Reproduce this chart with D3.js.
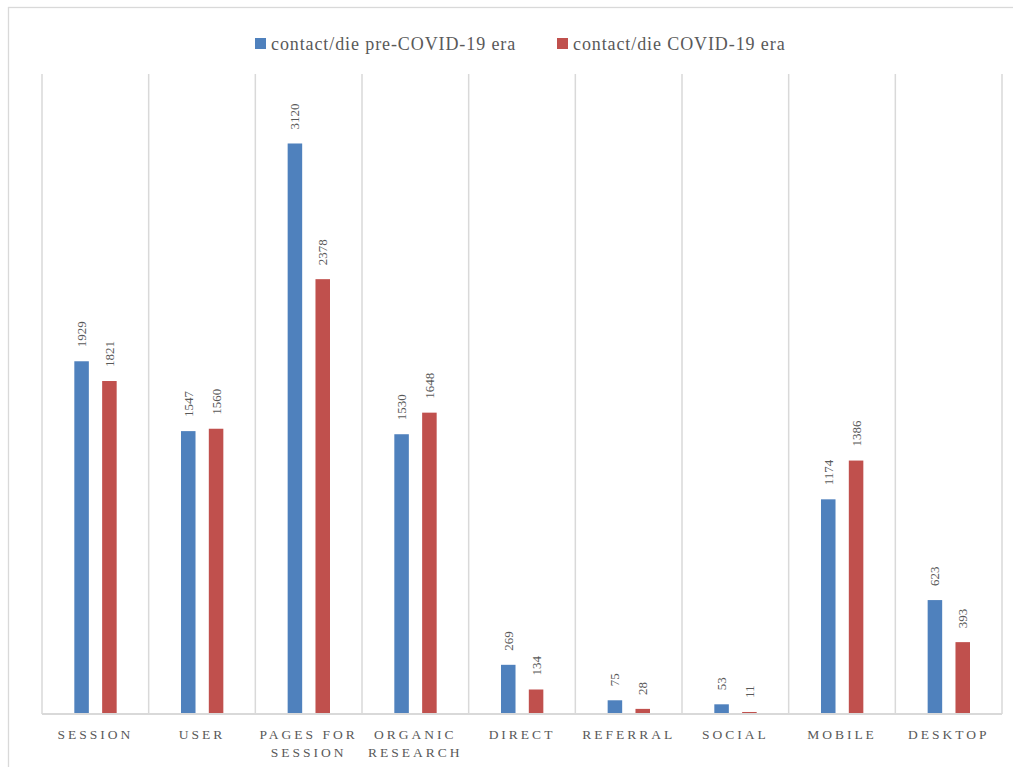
<!DOCTYPE html>
<html>
<head>
<meta charset="utf-8">
<script src="https://cdn.jsdelivr.net/npm/d3@7"></script>
<style>
  body { margin: 0; background: #fff; }
  svg text { font-family: "Liberation Serif", "DejaVu Serif", serif; }
</style>
</head>
<body>
<div id="chart"></div>
<script>
// chart data
var categories = ["SESSION", "USER", "PAGES FOR\nSESSION", "ORGANIC\nRESEARCH", "DIRECT", "REFERRAL", "SOCIAL", "MOBILE", "DESKTOP"];
var seriesNames = ["contact/die pre-COVID-19 era", "contact/die COVID-19 era"];
var preCovid = [1929, 1547, 3120, 1530, 269, 75, 53, 1174, 623];
var covid = [1821, 1560, 2378, 1648, 134, 28, 11, 1386, 393];
var colors = ["#4F81BD", "#C0504D"];

var width = 1013, height = 767;
var plotLeft = 42, plotRight = 1002, plotTop = 74, base = 714;

var svg = d3.select("#chart").append("svg")
    .attr("width", width)
    .attr("height", height);

// outer frame
svg.append("rect")
    .attr("x", 8.5).attr("y", 7.5)
    .attr("width", 1020).attr("height", 780)
    .style("fill", "none")
    .style("stroke", "#d9d9d9")
    .style("stroke-width", 1.3);

var x = d3.scaleBand().domain(d3.range(categories.length)).range([plotLeft, plotRight]).padding(0);
var step = x.bandwidth();
var xs = d3.scaleBand().domain([0, 1]).range([step * 0.303, step * 0.70]).paddingInner(0.478).paddingOuter(0);
var y = d3.scaleLinear().domain([0, 3500]).range([base, plotTop]);

// vertical category gridlines
var gridX = d3.range(categories.length + 1).map(function(i) { return plotLeft + i * step; });
svg.selectAll("line.grid").data(gridX).enter().append("line")
    .attr("class", "grid")
    .attr("x1", function(d) { return d; })
    .attr("x2", function(d) { return d; })
    .attr("y1", y(3500))
    .attr("y2", base)
    .style("stroke", "#d9d9d9")
    .style("stroke-width", 1.5);

// bars
var rows = categories.map(function(c, i) { return [preCovid[i], covid[i]]; });
var groups = svg.selectAll("g.cat").data(rows).enter().append("g")
    .attr("class", "cat")
    .attr("transform", function(d, i) { return "translate(" + x(i) + ",0)"; });

groups.selectAll("rect").data(function(d) { return d; }).enter().append("rect")
    .attr("x", function(d, j) { return xs(j); })
    .attr("y", function(d) { return y(d); })
    .attr("width", xs.bandwidth())
    .attr("height", function(d) { return base - y(d); })
    .style("fill", function(d, j) { return colors[j]; });

// value labels, rotated
groups.selectAll("text.val").data(function(d) { return d; }).enter().append("text")
    .attr("class", "val")
    .attr("transform", function(d, j) {
        return "translate(" + (xs(j) + xs.bandwidth() / 2 + 4.5) + "," + (y(d) - 14) + ") rotate(-90)";
    })
    .style("font-size", "13px")
    .style("fill", "#595959")
    .text(function(d) { return d; });

// baseline
svg.append("line")
    .attr("x1", plotLeft).attr("x2", plotRight)
    .attr("y1", base).attr("y2", base)
    .style("stroke", "#d9d9d9")
    .style("stroke-width", 2);

// category labels
var labels = svg.selectAll("text.cat").data(categories).enter().append("text")
    .attr("class", "cat")
    .attr("x", function(d, i) { return x(i) + step / 2; })
    .attr("y", 739)
    .attr("text-anchor", "middle")
    .style("font-size", "13.5px")
    .style("letter-spacing", "3px")
    .style("fill", "#595959");

labels.each(function(d) {
    var t = d3.select(this);
    var cx = t.attr("x");
    d.split("\n").forEach(function(line, k) {
        t.append("tspan").attr("x", cx).attr("dy", k === 0 ? 0 : 18).text(line);
    });
});

// legend
var legendX = [255, 557];
var legend = svg.selectAll("g.legend").data(seriesNames).enter().append("g")
    .attr("class", "legend")
    .attr("transform", function(d, i) { return "translate(" + legendX[i] + ",38)"; });

legend.append("rect")
    .attr("width", 11).attr("height", 11)
    .style("fill", function(d, i) { return colors[i]; });

legend.append("text")
    .attr("x", 16).attr("y", 11.5)
    .style("font-size", "18px")
    .style("letter-spacing", "0.9px")
    .style("fill", "#595959")
    .text(function(d) { return d; });
</script>
</body>
</html>
